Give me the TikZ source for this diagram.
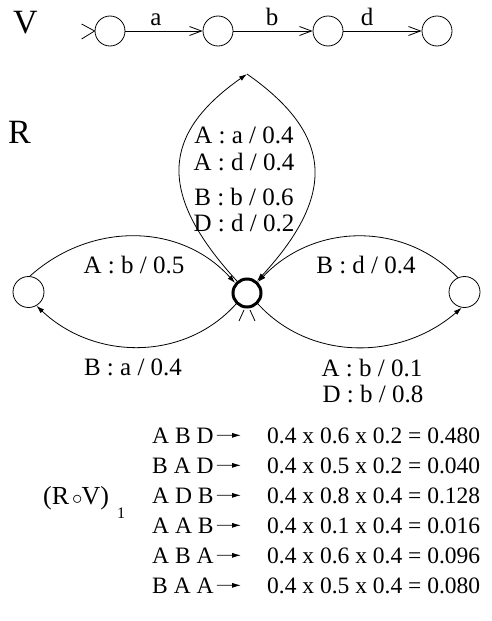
\documentclass[tikz,border=0pt]{standalone}
\usepackage{fontspec}
\setmainfont{Liberation Serif}
\usetikzlibrary{arrows.meta}
\begin{document}
\begin{tikzpicture}[x=1pt,y=-1pt,
  st/.style={circle,draw,line width=0.8pt,minimum size=30pt,inner sep=0pt},
  ctr/.style={circle,draw,line width=3pt,minimum size=28pt,inner sep=0pt},
  lbl/.style={inner sep=0pt,anchor=base,font=\fontsize{25}{30}\selectfont},
  big/.style={inner sep=0pt,anchor=base west,font=\fontsize{34}{40}\selectfont},
  row/.style={inner sep=0pt,anchor=base west,font=\fontsize{23.5}{28}\selectfont},
  tr/.style={line width=0.8pt,-{Latex[length=8pt,width=5pt]}},
  vtr/.style={line width=0.8pt,-{Straight Barb[length=12pt,width=9pt]}},
  thin/.style={line width=0.8pt},
]
\useasboundingbox (0,0) rectangle (492,621);
% ---- V ----
\node[big] (V) at (13,33) {V};
\node[st] (v1) at (110,31) {};
\node[st] (v2) at (218,31) {};
\node[st] (v3) at (328,31) {};
\node[st] (v4) at (437,31) {};
\draw[thin] (v1.west) ++(-13,-7) -- (v1.west) -- ++(-13,8);
\draw[vtr] (v1) -- (v2);
\draw[vtr] (v2) -- (v3);
\draw[vtr] (v3) -- (v4);
\node[lbl] (la) at (156,25) {a};
\node[lbl] (lb) at (272,25) {b};
\node[lbl] (ld) at (367,25) {d};
% ---- R ----
\node[big] (R) at (8,143) {R};
\node[ctr] (C) at (247,293) {};
\node[st,minimum size=31pt] (L) at (28.5,292) {};
\node[st,minimum size=31pt] (Rt) at (464.5,292) {};
\coordinate (apex) at (247,74);
\draw[tr] (L.85) .. controls (90,222) and (180,222) .. (C.140);
\draw[tr] (C.225) .. controls (185,361) and (95,361) .. (L.-60);
\draw[tr] (Rt.115) .. controls (405,222) and (315,222) .. (C.45);
\draw[tr] (C.-45) .. controls (310,361) and (400,361) .. (Rt.-100);
\draw[tr] (C.130) .. controls (158,195) and (160,135) .. (apex);
\draw[tr] (apex) .. controls (334,135) and (336,195) .. (C.50);
\draw[thin] (C.south) ++(-3,1.5) -- ++(-5,11);
\draw[thin] (C.south) ++(3,1.5) -- ++(5,11);
\node[lbl] (t1) at (244,143) {A : a / 0.4};
\node[lbl] (t2) at (244,170) {A : d / 0.4};
\node[lbl] (t3) at (244,205) {B : b / 0.6};
\node[lbl] (t4) at (244,231) {D : d / 0.2};
\node[lbl] (lb1) at (134,273) {A : b / 0.5};
\node[lbl] (lb2) at (133,375) {B : a / 0.4};
\node[lbl] (rb1) at (366,273) {B : d / 0.4};
\node[lbl] (rb2) at (372,376) {A : b / 0.1};
\node[lbl] (rb3) at (373,402) {D : b / 0.8};
% ---- list ----
\node[row,font=\fontsize{26}{30}\selectfont] (RV) at (43,504) {(R\kern3pt{\fontsize{21}{24}\selectfont$\circ$}\kern-1pt V)};
\node[row,font=\fontsize{16}{20}\selectfont] (sub) at (117,518) {1};
\foreach \l/\r [count=\k] in {A B D/0.4 x 0.6 x 0.2 = 0.480,
  B A D/0.4 x 0.5 x 0.2 = 0.040,
  A D B/0.4 x 0.8 x 0.4 = 0.128,
  A A B/0.4 x 0.1 x 0.4 = 0.016,
  A B A/0.4 x 0.6 x 0.4 = 0.096,
  B A A/0.4 x 0.5 x 0.4 = 0.080}{
  \node[row] (l\k) at (152,413+30*\k) {\l};
  \node[row] (r\k) at (267,413+30*\k) {\r};
  \draw[thin,-{Latex[length=9pt,width=5pt]},shorten <=3pt,shorten >=26pt] (l\k.east) -- (r\k.west);
}
\end{tikzpicture}
\end{document}
